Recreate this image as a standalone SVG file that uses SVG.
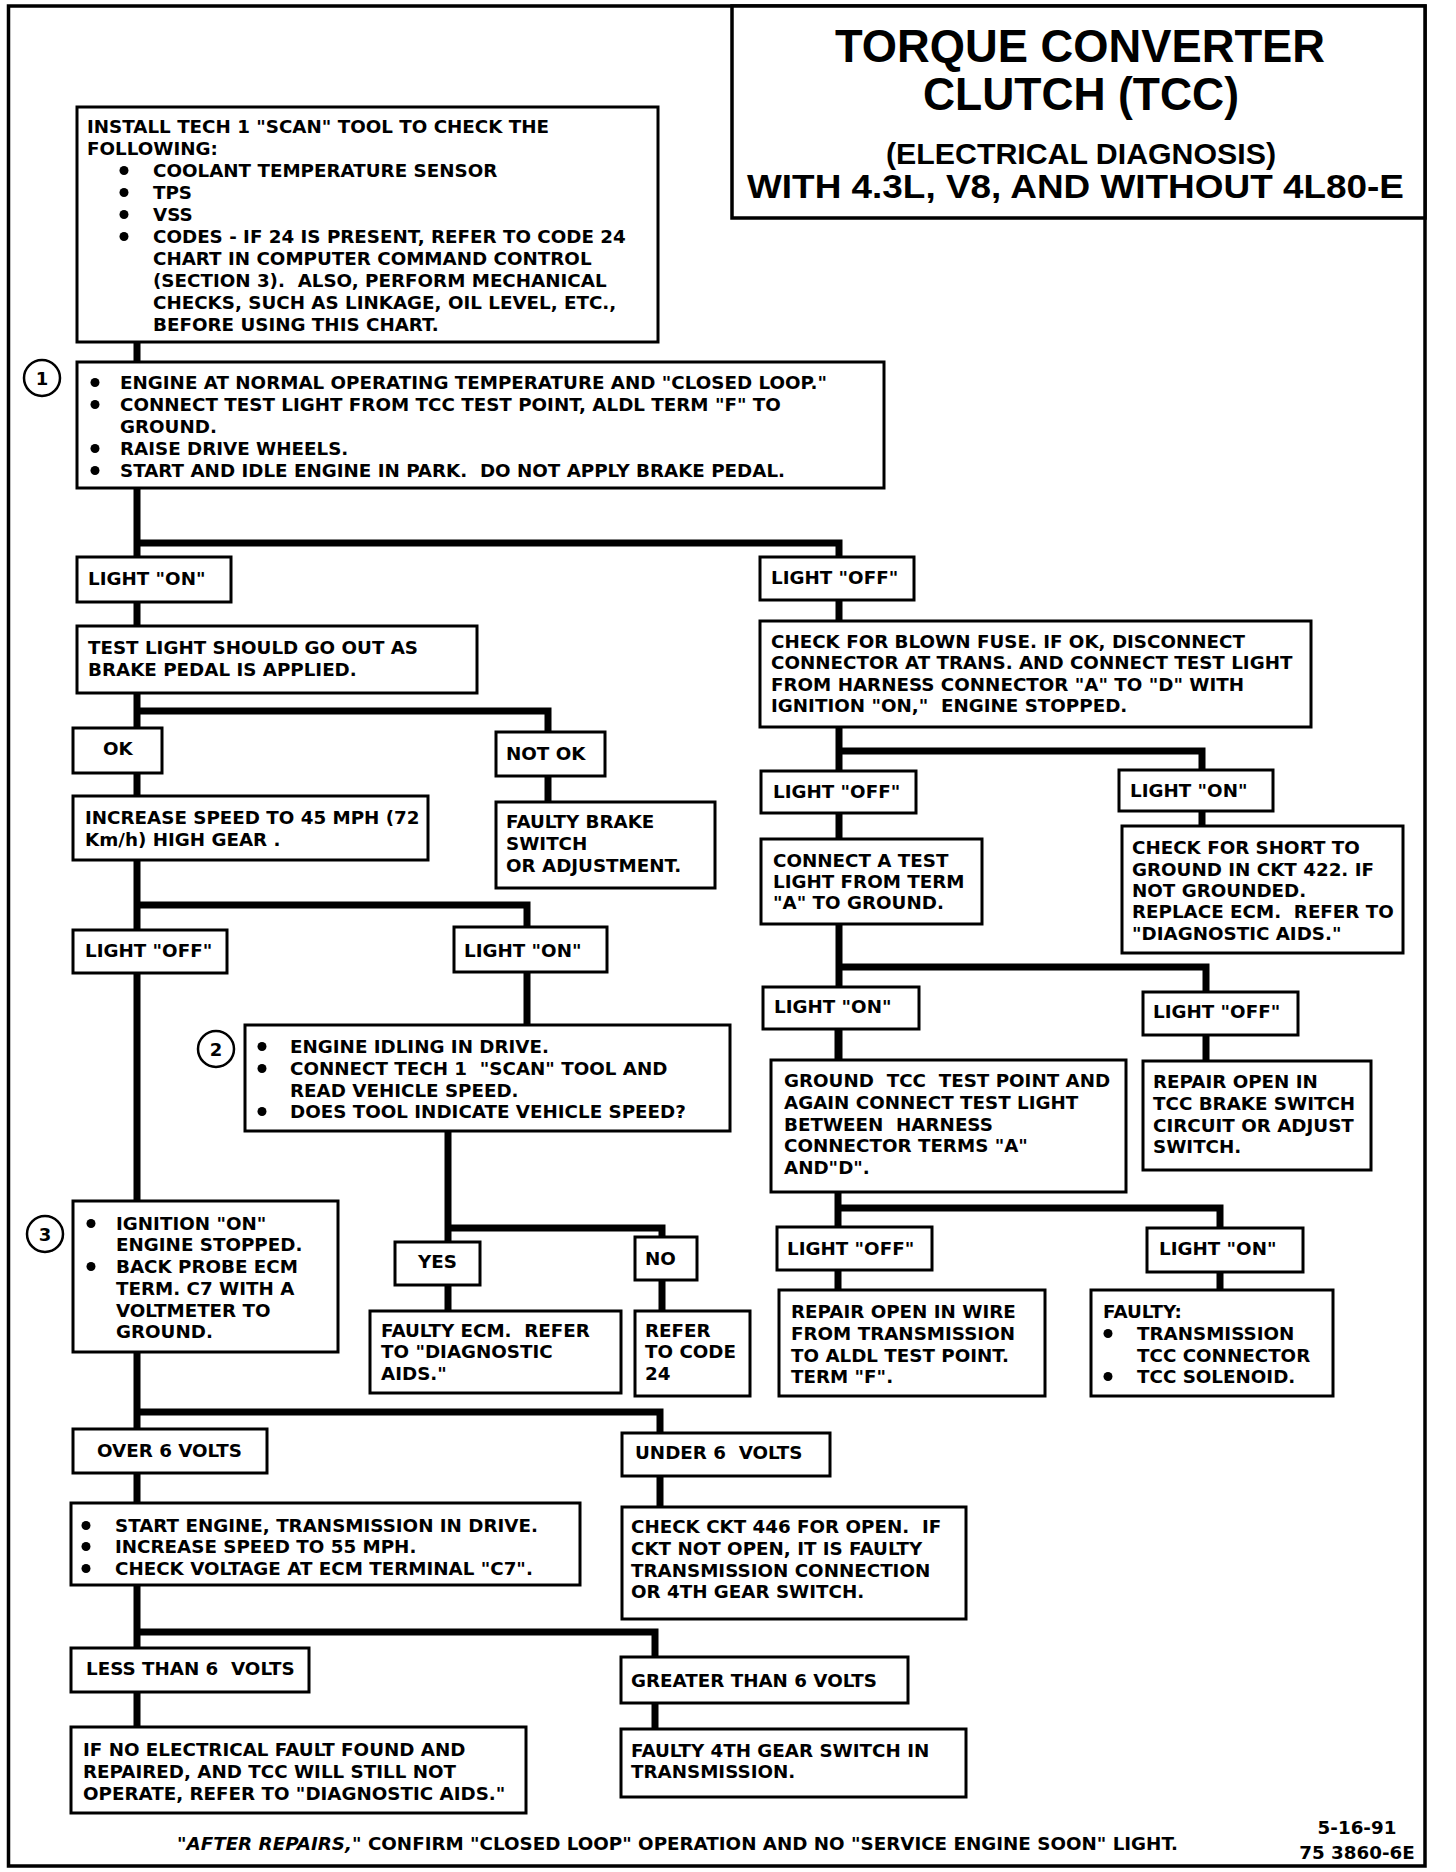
<svg xmlns="http://www.w3.org/2000/svg" xmlns:xlink="http://www.w3.org/1999/xlink" width="1456" height="1872" viewBox="0 0 1456 1872">
<style>
.bx{fill:#fff;stroke:#000;stroke-width:3}
.t{font-family:"DejaVu Sans","Liberation Sans",sans-serif;font-weight:bold;font-size:18.3px;fill:#000}
.ti{font-family:"Liberation Sans",Arial,sans-serif;font-weight:bold;fill:#000}
.w{fill:none;stroke:#000;stroke-width:7;stroke-linejoin:miter;stroke-linecap:butt}
.num{fill:#fff;stroke:#000;stroke-width:2.5}
.nt{font-family:"DejaVu Sans",sans-serif;font-weight:bold;font-size:18px;text-anchor:middle}
</style>
<defs><circle id="dot" r="4.5" fill="#000"/></defs>
<rect x="0" y="0" width="1456" height="1872" fill="#fff"/>
<g id="frame"><rect x="8.5" y="6" width="1416.5" height="1860" fill="none" stroke="#000" stroke-width="3.5"/></g>

<g id="connectors">
<path class="w" d="M137 340V1730"/>
<path class="w" d="M137 543H839V560"/>
<path class="w" d="M137 711H548V735"/>
<path class="w" d="M548 774V805"/>
<path class="w" d="M137 905H527V1028"/>
<path class="w" d="M137 1412H660V1510"/>
<path class="w" d="M137 1632H655V1732"/>
<path class="w" d="M448 1128V1314"/>
<path class="w" d="M448 1228H662V1314"/>
<path class="w" d="M839 598V1062"/>
<path class="w" d="M839 751H1202V829"/>
<path class="w" d="M839 967H1206V1064"/>
<path class="w" d="M838 1028V1293"/>
<path class="w" d="M838 1208H1220V1293"/>
</g>

<g id="title">
<rect x="732" y="6" width="693" height="212" fill="#fff" stroke="#000" stroke-width="3.5"/>
<text class="ti" x="835" y="62" font-size="46" textLength="490" lengthAdjust="spacingAndGlyphs">TORQUE CONVERTER</text>
<text class="ti" x="923" y="110" font-size="46" textLength="316" lengthAdjust="spacingAndGlyphs">CLUTCH (TCC)</text>
<text class="ti" x="886" y="164" font-size="30" textLength="390" lengthAdjust="spacingAndGlyphs">(ELECTRICAL DIAGNOSIS)</text>
<text class="ti" x="747" y="198" font-size="33" textLength="657" lengthAdjust="spacingAndGlyphs">WITH 4.3L, V8, AND WITHOUT 4L80-E</text>
</g>

<g id="n-install">
<rect class="bx" x="77" y="107" width="581" height="235"/>
<text class="t" x="87" y="133">INSTALL TECH 1 "SCAN" TOOL TO CHECK THE</text>
<text class="t" x="87" y="155">FOLLOWING:</text>
<use href="#dot" x="124" y="170.5"/><text class="t" x="153" y="177">COOLANT TEMPERATURE SENSOR</text>
<use href="#dot" x="124" y="192.5"/><text class="t" x="153" y="199">TPS</text>
<use href="#dot" x="124" y="214.5"/><text class="t" x="153" y="221">VSS</text>
<use href="#dot" x="124" y="236.5"/><text class="t" x="153" y="243">CODES - IF 24 IS PRESENT, REFER TO CODE 24</text>
<text class="t" x="153" y="265">CHART IN COMPUTER COMMAND CONTROL</text>
<text class="t" x="153" y="287">(SECTION 3).&#160; ALSO, PERFORM MECHANICAL</text>
<text class="t" x="153" y="309">CHECKS, SUCH AS LINKAGE, OIL LEVEL, ETC.,</text>
<text class="t" x="153" y="331">BEFORE USING THIS CHART.</text>
</g>

<g id="n-step1">
<rect class="bx" x="77" y="362" width="807" height="126"/>
<circle class="num" cx="42" cy="378" r="18"/><text class="nt" x="42" y="385">1</text>
<use href="#dot" x="95" y="382.5"/><text class="t" x="120" y="389">ENGINE AT NORMAL OPERATING TEMPERATURE AND "CLOSED LOOP."</text>
<use href="#dot" x="95" y="404.5"/><text class="t" x="120" y="411">CONNECT TEST LIGHT FROM TCC TEST POINT, ALDL TERM "F" TO</text>
<text class="t" x="120" y="433">GROUND.</text>
<use href="#dot" x="95" y="448.5"/><text class="t" x="120" y="455">RAISE DRIVE WHEELS.</text>
<use href="#dot" x="95" y="470.5"/><text class="t" x="120" y="477">START AND IDLE ENGINE IN PARK.&#160; DO NOT APPLY BRAKE PEDAL.</text>
</g>

<g id="n-lighton1"><rect class="bx" x="77" y="557" width="154" height="45"/><text class="t" x="88" y="585">LIGHT "ON"</text></g>
<g id="n-testlight"><rect class="bx" x="77" y="626" width="400" height="67"/>
<text class="t" x="88" y="654">TEST LIGHT SHOULD GO OUT AS</text>
<text class="t" x="88" y="676">BRAKE PEDAL IS APPLIED.</text></g>
<g id="n-ok"><rect class="bx" x="73" y="728" width="89" height="45"/><text class="t" x="103" y="755">OK</text></g>
<g id="n-notok"><rect class="bx" x="496" y="732" width="109" height="44"/><text class="t" x="506" y="760">NOT OK</text></g>
<g id="n-faultybrake"><rect class="bx" x="496" y="802" width="219" height="86"/>
<text class="t" x="506" y="828">FAULTY BRAKE</text>
<text class="t" x="506" y="850">SWITCH</text>
<text class="t" x="506" y="872">OR ADJUSTMENT.</text></g>
<g id="n-increase"><rect class="bx" x="73" y="796" width="355" height="64"/>
<text class="t" x="85" y="824">INCREASE SPEED TO 45 MPH (72</text>
<text class="t" x="85" y="846">Km/h) HIGH GEAR .</text></g>
<g id="n-lightoff2"><rect class="bx" x="73" y="930" width="154" height="43"/><text class="t" x="85" y="957">LIGHT "OFF"</text></g>
<g id="n-lighton2"><rect class="bx" x="454" y="927" width="153" height="45"/><text class="t" x="464" y="957">LIGHT "ON"</text></g>

<g id="n-step2">
<rect class="bx" x="245" y="1025" width="485" height="106"/>
<circle class="num" cx="216" cy="1049" r="18"/><text class="nt" x="216" y="1056">2</text>
<use href="#dot" x="262" y="1046.5"/><text class="t" x="290" y="1053">ENGINE IDLING IN DRIVE.</text>
<use href="#dot" x="262" y="1068.5"/><text class="t" x="290" y="1075">CONNECT TECH 1&#160; "SCAN" TOOL AND</text>
<text class="t" x="290" y="1097">READ VEHICLE SPEED.</text>
<use href="#dot" x="262" y="1111.5"/><text class="t" x="290" y="1118">DOES TOOL INDICATE VEHICLE SPEED?</text>
</g>

<g id="n-step3">
<rect class="bx" x="73" y="1201" width="265" height="151"/>
<circle class="num" cx="45" cy="1234" r="18"/><text class="nt" x="45" y="1241">3</text>
<use href="#dot" x="91" y="1223.5"/><text class="t" x="116" y="1230">IGNITION "ON"</text>
<text class="t" x="116" y="1251">ENGINE STOPPED.</text>
<use href="#dot" x="91" y="1266.5"/><text class="t" x="116" y="1273">BACK PROBE ECM</text>
<text class="t" x="116" y="1295">TERM. C7 WITH A</text>
<text class="t" x="116" y="1317">VOLTMETER TO</text>
<text class="t" x="116" y="1338">GROUND.</text>
</g>

<g id="n-yes"><rect class="bx" x="395" y="1242" width="85" height="43"/><text class="t" x="418" y="1268">YES</text></g>
<g id="n-no"><rect class="bx" x="635" y="1237" width="62" height="43"/><text class="t" x="645" y="1265">NO</text></g>
<g id="n-faultyecm"><rect class="bx" x="370" y="1311" width="251" height="82"/>
<text class="t" x="381" y="1337">FAULTY ECM.&#160; REFER</text>
<text class="t" x="381" y="1358">TO "DIAGNOSTIC</text>
<text class="t" x="381" y="1380">AIDS."</text></g>
<g id="n-refer"><rect class="bx" x="635" y="1311" width="115" height="85"/>
<text class="t" x="645" y="1337">REFER</text>
<text class="t" x="645" y="1358">TO CODE</text>
<text class="t" x="645" y="1380">24</text></g>

<g id="n-over6"><rect class="bx" x="73" y="1429" width="194" height="44"/><text class="t" x="97" y="1457">OVER 6 VOLTS</text></g>
<g id="n-under6"><rect class="bx" x="622" y="1433" width="208" height="43"/><text class="t" x="635" y="1459">UNDER 6&#160; VOLTS</text></g>
<g id="n-start"><rect class="bx" x="71" y="1503" width="509" height="82"/>
<use href="#dot" x="86" y="1525.5"/><text class="t" x="115" y="1532">START ENGINE, TRANSMISSION IN DRIVE.</text>
<use href="#dot" x="86" y="1546.5"/><text class="t" x="115" y="1553">INCREASE SPEED TO 55 MPH.</text>
<use href="#dot" x="86" y="1568.5"/><text class="t" x="115" y="1575">CHECK VOLTAGE AT ECM TERMINAL "C7".</text></g>
<g id="n-checkckt"><rect class="bx" x="622" y="1507" width="344" height="112"/>
<text class="t" x="631" y="1533">CHECK CKT 446 FOR OPEN.&#160; IF</text>
<text class="t" x="631" y="1555">CKT NOT OPEN, IT IS FAULTY</text>
<text class="t" x="631" y="1577">TRANSMISSION CONNECTION</text>
<text class="t" x="631" y="1598">OR 4TH GEAR SWITCH.</text></g>
<g id="n-less6"><rect class="bx" x="71" y="1648" width="238" height="44"/><text class="t" x="86" y="1675">LESS THAN 6&#160; VOLTS</text></g>
<g id="n-greater6"><rect class="bx" x="621" y="1657" width="287" height="46"/><text class="t" x="631" y="1687">GREATER THAN 6 VOLTS</text></g>
<g id="n-faulty4th"><rect class="bx" x="621" y="1729" width="345" height="68"/>
<text class="t" x="631" y="1757">FAULTY 4TH GEAR SWITCH IN</text>
<text class="t" x="631" y="1778">TRANSMISSION.</text></g>
<g id="n-ifno"><rect class="bx" x="71" y="1727" width="455" height="86"/>
<text class="t" x="83" y="1756">IF NO ELECTRICAL FAULT FOUND AND</text>
<text class="t" x="83" y="1778">REPAIRED, AND TCC WILL STILL NOT</text>
<text class="t" x="83" y="1800">OPERATE, REFER TO "DIAGNOSTIC AIDS."</text></g>

<g id="n-lightoff1"><rect class="bx" x="760" y="557" width="154" height="43"/><text class="t" x="771" y="584">LIGHT "OFF"</text></g>
<g id="n-blownfuse"><rect class="bx" x="760" y="621" width="551" height="106"/>
<text class="t" x="771" y="648">CHECK FOR BLOWN FUSE. IF OK, DISCONNECT</text>
<text class="t" x="771" y="669">CONNECTOR AT TRANS. AND CONNECT TEST LIGHT</text>
<text class="t" x="771" y="691">FROM HARNESS CONNECTOR "A" TO "D" WITH</text>
<text class="t" x="771" y="712">IGNITION "ON,"&#160; ENGINE STOPPED.</text></g>
<g id="n-lightoff3"><rect class="bx" x="761" y="771" width="155" height="42"/><text class="t" x="773" y="798">LIGHT "OFF"</text></g>
<g id="n-lighton3"><rect class="bx" x="1119" y="770" width="154" height="41"/><text class="t" x="1130" y="797">LIGHT "ON"</text></g>
<g id="n-short"><rect class="bx" x="1122" y="826" width="281" height="127"/>
<text class="t" x="1132" y="854">CHECK FOR SHORT TO</text>
<text class="t" x="1132" y="876">GROUND IN CKT 422. IF</text>
<text class="t" x="1132" y="897">NOT GROUNDED.</text>
<text class="t" x="1132" y="918">REPLACE ECM.&#160; REFER TO</text>
<text class="t" x="1132" y="940">"DIAGNOSTIC AIDS."</text></g>
<g id="n-connecttest"><rect class="bx" x="761" y="839" width="221" height="85"/>
<text class="t" x="773" y="867">CONNECT A TEST</text>
<text class="t" x="773" y="888">LIGHT FROM TERM</text>
<text class="t" x="773" y="909">"A" TO GROUND.</text></g>
<g id="n-lighton4"><rect class="bx" x="763" y="987" width="156" height="42"/><text class="t" x="774" y="1013">LIGHT "ON"</text></g>
<g id="n-lightoff4"><rect class="bx" x="1143" y="992" width="155" height="43"/><text class="t" x="1153" y="1018">LIGHT "OFF"</text></g>
<g id="n-groundtcc"><rect class="bx" x="771" y="1060" width="355" height="132"/>
<text class="t" x="784" y="1087">GROUND&#160; TCC&#160; TEST POINT AND</text>
<text class="t" x="784" y="1109">AGAIN CONNECT TEST LIGHT</text>
<text class="t" x="784" y="1131">BETWEEN&#160; HARNESS</text>
<text class="t" x="784" y="1152">CONNECTOR TERMS "A"</text>
<text class="t" x="784" y="1174">AND"D".</text></g>
<g id="n-repairtcc"><rect class="bx" x="1143" y="1061" width="228" height="109"/>
<text class="t" x="1153" y="1088">REPAIR OPEN IN</text>
<text class="t" x="1153" y="1110">TCC BRAKE SWITCH</text>
<text class="t" x="1153" y="1132">CIRCUIT OR ADJUST</text>
<text class="t" x="1153" y="1153">SWITCH.</text></g>
<g id="n-lightoff5"><rect class="bx" x="777" y="1227" width="155" height="43"/><text class="t" x="787" y="1255">LIGHT "OFF"</text></g>
<g id="n-lighton5"><rect class="bx" x="1147" y="1228" width="156" height="44"/><text class="t" x="1159" y="1255">LIGHT "ON"</text></g>
<g id="n-repairwire"><rect class="bx" x="779" y="1290" width="266" height="106"/>
<text class="t" x="791" y="1318">REPAIR OPEN IN WIRE</text>
<text class="t" x="791" y="1340">FROM TRANSMISSION</text>
<text class="t" x="791" y="1362">TO ALDL TEST POINT.</text>
<text class="t" x="791" y="1383">TERM "F".</text></g>
<g id="n-faulty"><rect class="bx" x="1091" y="1290" width="242" height="106"/>
<text class="t" x="1103" y="1318">FAULTY:</text>
<use href="#dot" x="1108" y="1333.5"/><text class="t" x="1137" y="1340">TRANSMISSION</text>
<text class="t" x="1137" y="1362">TCC CONNECTOR</text>
<use href="#dot" x="1108" y="1376.5"/><text class="t" x="1137" y="1383">TCC SOLENOID.</text></g>

<g id="footer">
<text class="t" x="177" y="1850" font-size="18"><tspan font-style="italic">"AFTER REPAIRS,"</tspan> CONFIRM "CLOSED LOOP" OPERATION AND NO "SERVICE ENGINE SOON" LIGHT.</text>
<text class="t" x="1357" y="1834" font-size="18" text-anchor="middle">5-16-91</text>
<text class="t" x="1357" y="1859" font-size="18" text-anchor="middle">75 3860-6E</text>
</g>
</svg>
